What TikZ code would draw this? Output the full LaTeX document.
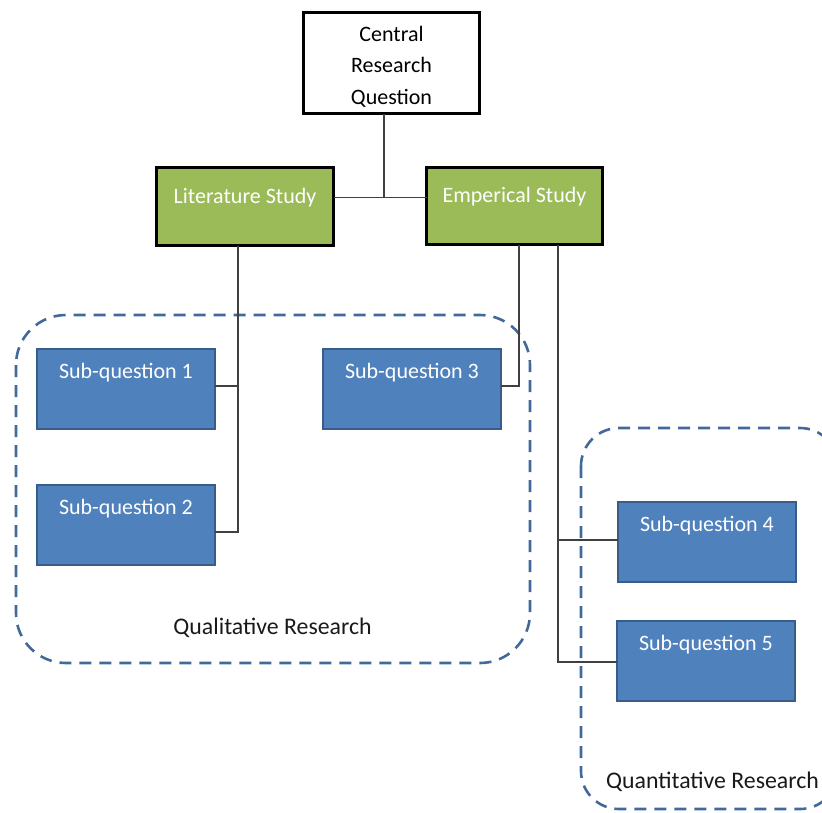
\documentclass[tikz,border=0pt]{standalone}
\usepackage{fontspec}
\setmainfont{Carlito}
\definecolor{boxgreen}{HTML}{9BBB59}
\definecolor{boxblue}{HTML}{4F81BD}
\definecolor{blueedge}{HTML}{385D8A}
\definecolor{regionedge}{HTML}{41699A}
\definecolor{connline}{HTML}{404040}
\begin{document}
\begin{tikzpicture}[x=1pt,y=-1pt,
  every node/.style={inner sep=0pt, outer sep=0pt},
  centralbox/.style={draw=black, line width=3pt, fill=white, minimum width=176pt,
    minimum height=101pt, align=center, font=\fontsize{22}{31.5}\selectfont},
  studybox/.style={draw=black, line width=3pt, fill=boxgreen, text=white,
    minimum width=177pt, minimum height=78pt, text height=14pt, text depth=21pt,
    font=\fontsize{22}{26}\selectfont},
  subbox/.style={draw=blueedge, line width=2pt, fill=boxblue, text=white,
    minimum width=178pt, minimum height=80pt, text height=12pt, text depth=34pt,
    font=\fontsize{22}{26}\selectfont},
  region/.style={draw=regionedge, line width=2.6pt, dash pattern=on 12pt off 8pt},
  regionlabel/.style={anchor=base, text=black!90, font=\fontsize{23.8}{28}\selectfont},
  conn/.style={draw=connline, line width=1.5pt}]

\useasboundingbox (0,0) rectangle (822,812);
\clip (0,0) rectangle (822,812);

% dashed research groupings
\draw[region, rounded corners=50pt] (16,315) rectangle (530,663);
\draw[region, rounded corners=38pt] (581,428) rectangle (838,809);
\node[regionlabel] (qual) at (272.5,634) {Qualitative Research};
\node[regionlabel] (quant) at (712.5,788) {Quantitative Research};

% boxes
\node[centralbox] (central) at (391.5,63) {\rule{0pt}{22pt}Central\\Research\\Question};
\node[studybox] (lit) at (245,206.5) {Literature Study};
\node[studybox, minimum width=176pt, minimum height=77pt] (emp) at (514.5,206) {Emperical Study};
\node[subbox] (sq1) at (126,389) {Sub-question 1};
\node[subbox] (sq2) at (126,525) {Sub-question 2};
\node[subbox] (sq3) at (412,389) {Sub-question 3};
\node[subbox] (sq4) at (707,542) {Sub-question 4};
\node[subbox] (sq5) at (706,661) {Sub-question 5};

% junction points of the connectors
\coordinate (jc) at (384,197.5);
\coordinate (lx) at (238,386);
\coordinate (ly) at (238,532);
\coordinate (ex) at (519,386);
\coordinate (qx) at (558,540);
\coordinate (qy) at (558,662);

% connectors
\draw[conn] (central.south -| jc) -- (jc);
\draw[conn] (lit.east |- jc) -- (emp.west |- jc);
\draw[conn] (lit.south -| lx) -- (ly) -- (sq2.east |- ly);
\draw[conn] (lx) -- (sq1.east |- lx);
\draw[conn] (emp.south -| ex) -- (ex) -- (sq3.east |- ex);
\draw[conn] (emp.south -| qx) -- (qy) -- (sq5.west |- qy);
\draw[conn] (qx) -- (sq4.west |- qx);
\end{tikzpicture}
\end{document}
